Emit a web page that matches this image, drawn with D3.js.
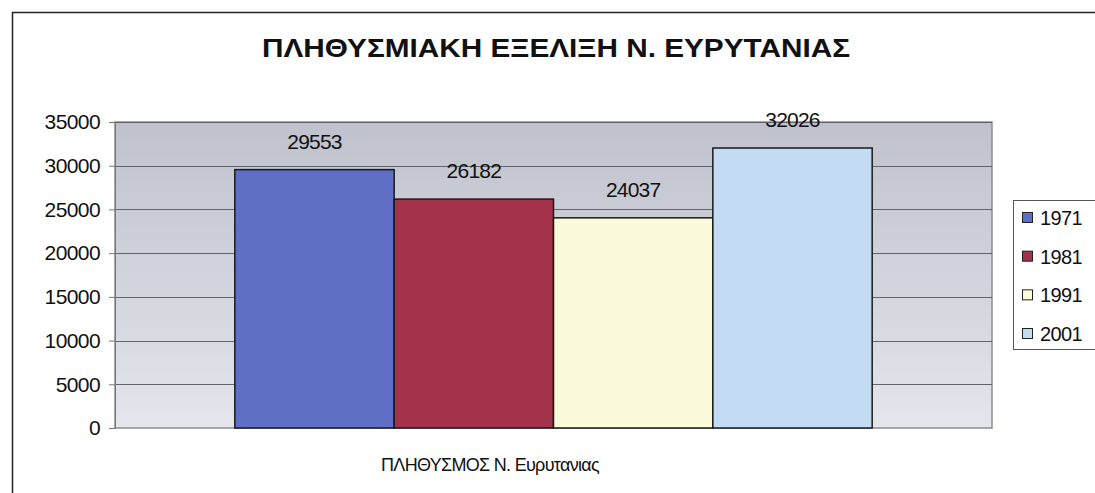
<!DOCTYPE html>
<html><head><meta charset="utf-8">
<script src="https://cdn.jsdelivr.net/npm/d3@7"></script>
<style>body{margin:0;background:#fff;}svg{display:block;}text{font-family:"Liberation Sans",Arial,sans-serif;}</style>
</head><body>
<svg id="c" width="1095" height="493"></svg>
<script>
const title = "ΠΛΗΘΥΣΜΙΑΚΗ ΕΞΕΛΙΞΗ Ν. ΕΥΡΥΤΑΝΙΑΣ";
const category = ["ΠΛΗΘΥΣΜΟΣ Ν. Ευρυτανιας"];
const seriesNames = ["1971", "1981", "1991", "2001"];
const seriesValues = [29553, 26182, 24037, 32026];
const seriesColors = ["#5f6fc6", "#a3324a", "#fcfbd9", "#c4dbf4"];
const yTicks = [0, 5000, 10000, 15000, 20000, 25000, 30000, 35000];

const svg = d3.select("#c");
const m = {left:115, right:992, top:122, bottom:428};

// outer frame
svg.append("rect").attr("x",12.5).attr("y",12.5).attr("width",1100).attr("height",500)
  .attr("fill","none").attr("stroke","#222").attr("stroke-width",1.5);

const defs = svg.append("defs");
const g = defs.append("linearGradient").attr("id","bg").attr("x1",0).attr("y1",0).attr("x2",0).attr("y2",1);
g.append("stop").attr("offset","0%").attr("stop-color","#bfc1cc");
g.append("stop").attr("offset","100%").attr("stop-color","#e4e6ec");

const y = d3.scaleLinear().domain([0,35000]).range([m.bottom, m.top]);
const x0 = d3.scaleBand().domain(category).range([m.left, m.right]).paddingInner(0).paddingOuter(0.188);
const x1 = d3.scaleBand().domain(seriesNames).range([0, x0.bandwidth()]);

svg.append("rect").attr("x",m.left).attr("y",m.top).attr("width",m.right-m.left).attr("height",m.bottom-m.top)
  .attr("fill","url(#bg)").attr("stroke","#8a8c94").attr("stroke-width",1.5);

// gridlines
svg.append("g").selectAll("line").data(yTicks.filter(d=>d>0)).join("line")
  .attr("x1",m.left).attr("x2",m.right)
  .attr("y1",d=>Math.round(y(d))+0.5).attr("y2",d=>Math.round(y(d))+0.5)
  .attr("stroke","#62636b").attr("stroke-width",1);

// y axis
const ya = svg.append("g").attr("transform",`translate(${m.left},0)`)
  .call(d3.axisLeft(y).tickValues(yTicks).tickSize(6).tickPadding(9).tickFormat(d3.format("d")));
ya.select(".domain").attr("stroke","#777");
ya.selectAll(".tick line").attr("stroke","#777");
ya.selectAll(".tick text").attr("fill","#111").style("font-size","21px").style("font-family","Liberation Sans, Arial, sans-serif").attr("letter-spacing","-0.6");

// bars
const gg = svg.append("g").attr("transform",`translate(${x0(category[0])},0)`);
const data = seriesNames.map((s,i)=>({s, v:seriesValues[i], c:seriesColors[i]}));
gg.selectAll("rect").data(data).join("rect")
  .attr("x",d=>x1(d.s)).attr("width",x1.bandwidth())
  .attr("y",d=>y(d.v)).attr("height",d=>y(0)-y(d.v))
  .attr("fill",d=>d.c).attr("stroke","#1a1a1a").attr("stroke-width",1.5);
gg.selectAll("text").data(data).join("text")
  .attr("x",d=>x1(d.s)+x1.bandwidth()/2).attr("y",d=>y(d.v)-21)
  .attr("text-anchor","middle").attr("fill","#111").style("font-size","21px").attr("letter-spacing","-0.8")
  .text(d=>d.v);

// title
svg.append("text").attr("x",556).attr("y",57).attr("text-anchor","middle")
  .style("font-size","26px").style("font-weight","bold").attr("fill","#111")
  .attr("textLength",588).attr("lengthAdjust","spacingAndGlyphs")
  .text(title);

// x axis title
svg.append("text").attr("x",490).attr("y",471).attr("text-anchor","middle")
  .style("font-size","18px").attr("letter-spacing","-0.7").attr("fill","#111").text(category[0]);

// legend
const lg = svg.append("g");
lg.append("rect").attr("x",1013.5).attr("y",200.5).attr("width",100).attr("height",149)
  .attr("fill","#fff").attr("stroke","#555").attr("stroke-width",1);
const ly = d3.scalePoint().domain(seriesNames).range([218, 334]);
lg.selectAll("rect.sw").data(data).join("rect").attr("class","sw")
  .attr("x",1022.5).attr("y",d=>ly(d.s)-5.5).attr("width",10).attr("height",10)
  .attr("fill",d=>d.c).attr("stroke","#222").attr("stroke-width",1);
lg.selectAll("text").data(data).join("text")
  .attr("x",1040).attr("y",d=>ly(d.s)+7).style("font-size","20px").attr("letter-spacing","-0.6").attr("fill","#111")
  .text(d=>d.s);
</script>
</body></html>
